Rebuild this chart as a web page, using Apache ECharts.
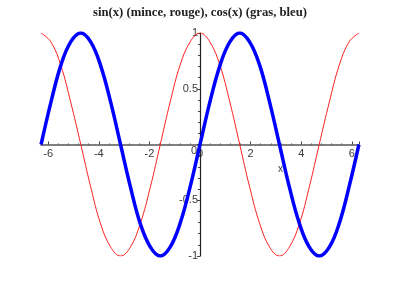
<!DOCTYPE html>
<html><head><meta charset="utf-8">
<script src="https://cdn.jsdelivr.net/npm/echarts@6/dist/echarts.min.js"></script>
<style>html,body{margin:0;padding:0;background:#fff}#c{width:400px;height:290px}</style>
</head><body><div id="c"></div>
<script>
const titleText = 'sin(x) (mince, rouge), cos(x) (gras, bleu)';
const xValues = [-6.28,-5.89,-5.50,-5.11,-4.71,-4.32,-3.93,-3.53,-3.14,-2.75,-2.36,-1.96,-1.57,-1.18,-0.79,-0.39,0,0.39,0.79,1.18,1.57,1.96,2.36,2.75,3.14,3.53,3.93,4.32,4.71,5.11,5.50,5.89,6.28];
const sinValues = [0,0.38,0.71,0.92,1,0.92,0.71,0.38,0,-0.38,-0.71,-0.92,-1,-0.92,-0.71,-0.38,0,0.38,0.71,0.92,1,0.92,0.71,0.38,0,-0.38,-0.71,-0.92,-1,-0.92,-0.71,-0.38,0];
const cosValues = [1,0.92,0.71,0.38,0,-0.38,-0.71,-0.92,-1,-0.92,-0.71,-0.38,0,0.38,0.71,0.92,1,0.92,0.71,0.38,0,-0.38,-0.71,-0.92,-1,-0.92,-0.71,-0.38,0,0.38,0.71,0.92,1];
const xTickLabels = [-6,-4,-2,0,2,4,6];
const yTickLabels = [-1,-0.5,0,0.5,1];
const xName = 'x';

const W = 400, H = 290;
const G = {left:41,right:41,top:33,bottom:34};
const gw = W - G.left - G.right, gh = H - G.top - G.bottom;

const chart = echarts.init(document.getElementById('c'), null, {renderer:'canvas'});
const axisGray = '#7f7f7f';
const labelColor = '#3a3a3a';
chart.setOption({
  animation:false,
  backgroundColor:'#fff',
  title:{text:titleText,left:'center',top:1,textStyle:{fontFamily:'Liberation Serif',fontWeight:'bold',fontSize:12.7,color:'#222'}},
  grid:Object.assign({containLabel:false},G),
  xAxis:{type:'value',min:-6.2832,max:6.2832,splitNumber:6,position:'bottom',offset:-gh/2,
    name:xName,nameLocation:'middle',nameGap:12,
    nameTextStyle:{fontFamily:'Liberation Sans',fontSize:10,color:labelColor,padding:[0,0,0,161]},
    axisLine:{onZero:false,lineStyle:{color:axisGray,width:1.8}},
    axisTick:{show:true,inside:true,length:3,lineStyle:{color:'#444'}},
    minorTick:{show:true,splitNumber:5,length:1,lineStyle:{color:'#444'}},
    splitLine:{show:false},
    axisLabel:{showMinLabel:false,showMaxLabel:false,hideOverlap:false,margin:4,fontFamily:'Liberation Sans',fontSize:11,color:labelColor,
      formatter:v=>{const r=Math.round(v*1000)/1000; return xTickLabels.includes(r)?String(r):'';}}
  },
  yAxis:{type:'value',min:-1,max:1,interval:0.5,position:'left',offset:-gw/2,
    axisLine:{onZero:false,lineStyle:{color:'#222',width:1.2}},
    axisTick:{show:true,length:3,lineStyle:{color:'#444'}},
    minorTick:{show:true,splitNumber:5,length:2,lineStyle:{color:'#444'}},
    splitLine:{show:false},
    axisLabel:{margin:2,hideOverlap:false,fontFamily:'Liberation Sans',fontSize:11,color:labelColor,
      formatter:v=>{ if(!yTickLabels.includes(v)) return ''; return v===0?'{z|0}':String(v);},
      rich:{z:{padding:[13,1,0,0],fontFamily:'Liberation Sans',fontSize:11,color:labelColor}}}
  },
  series:[
    {type:'line',data:xValues.map((x,i)=>[x,cosValues[i]]),smooth:0.4,showSymbol:false,
      lineStyle:{color:'#ff2020',width:1},z:2},
    {type:'line',data:xValues.map((x,i)=>[x,sinValues[i]]),smooth:0.4,showSymbol:false,
      lineStyle:{color:'#0000ff',width:3.5},z:3}
  ]
});
</script></body></html>
